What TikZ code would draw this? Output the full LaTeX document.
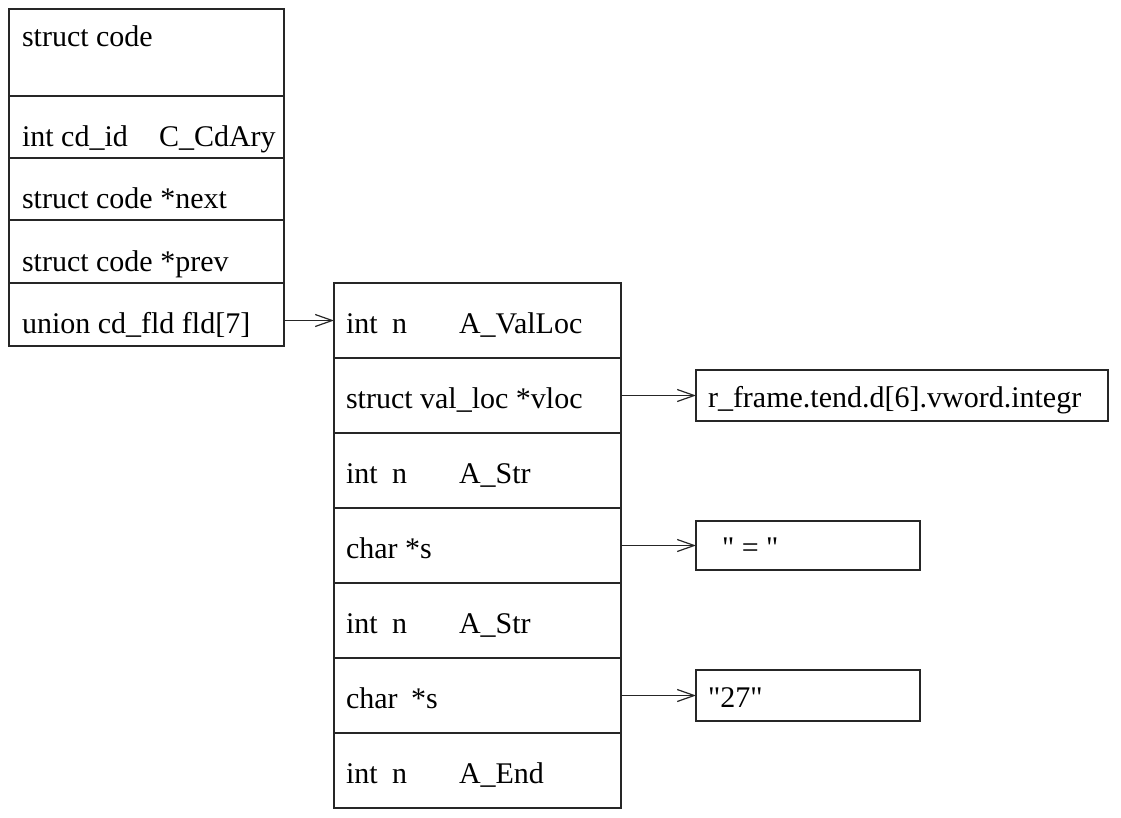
\documentclass[tikz,border=0pt]{standalone}
\usepackage{fontspec}
\newfontfamily\tfont{Liberation Serif}
\usetikzlibrary{arrows.meta}
\begin{document}
\begin{tikzpicture}[x=1pt,y=-1pt,
  cell/.style={draw=black!85,line width=1.3pt,inner sep=0pt,outer sep=0pt,anchor=north west,rectangle},
  txt/.style={inner sep=0pt,outer sep=0pt,anchor=base west,font=\tfont\fontsize{30}{36}\selectfont},
  ptr/.style={draw=black!85,line width=1.2pt,-{Straight Barb[length=17pt,width=12pt,line width=1.2pt]}}]
\useasboundingbox (0,0) rectangle (1121,817);
% left struct
\node[cell,minimum width=275pt,minimum height=87pt] (L1) at (9,9) {};
\node[cell,minimum width=275pt,minimum height=62pt] (L2) at (9,96) {};
\node[cell,minimum width=275pt,minimum height=62pt] (L3) at (9,158) {};
\node[cell,minimum width=275pt,minimum height=63pt] (L4) at (9,220) {};
\node[cell,minimum width=275pt,minimum height=63pt] (L5) at (9,283) {};
\node[txt] (l1t) at (22,46) {struct code};
\node[txt] (l2a) at (22,146) {int cd\_id};
\node[txt] (l2b) at (159,146) {C\_CdAry};
\node[txt] (l3t) at (22,208) {struct code *next};
\node[txt] (l4t) at (22,271) {struct code *prev};
\node[txt] (l5t) at (22,333) {union cd\_fld fld[7]};
% middle union array
\foreach \i/\y in {1/283,2/358,3/433,4/508,5/583,6/658,7/733}{
  \node[cell,minimum width=287pt,minimum height=75pt] (M\i) at (334,\y) {};
}
\node[txt] (m1a) at (346,333) {int};
\node[txt] (m1b) at (392,333) {n};
\node[txt] (m1c) at (459,333) {A\_ValLoc};
\node[txt] (m2a) at (346,408) {struct val\_loc *vloc};
\node[txt] (m3a) at (346,483) {int};
\node[txt] (m3b) at (392,483) {n};
\node[txt] (m3c) at (459,483) {A\_Str};
\node[txt] (m4a) at (346,558) {char *s};
\node[txt] (m5a) at (346,633) {int};
\node[txt] (m5b) at (392,633) {n};
\node[txt] (m5c) at (459,633) {A\_Str};
\node[txt] (m6a) at (346,708) {char};
\node[txt] (m6b) at (411,708) {*s};
\node[txt] (m7a) at (346,783) {int};
\node[txt] (m7b) at (392,783) {n};
\node[txt] (m7c) at (459,783) {A\_End};
% right boxes
\node[cell,minimum width=412pt,minimum height=51pt] (R1) at (696,370) {};
\node[cell,minimum width=224pt,minimum height=49pt] (R2) at (696,521) {};
\node[cell,minimum width=224pt,minimum height=51pt] (R3) at (696,670) {};
\node[txt] (r1t) at (708,407) {r\_frame.tend.d[6].vword.integr};
\node[txt] (r2t) at (722,557) {" = "};
\node[txt] (r3t) at (708,707) {"27"};
% pointers
\draw[ptr] (L5.east |- M1.west) -- (M1.west);
\draw[ptr] (M2.east) -- (R1.west);
\draw[ptr] (M4.east) -- (R2.west);
\draw[ptr] (M6.east) -- (R3.west);
\end{tikzpicture}
\end{document}
